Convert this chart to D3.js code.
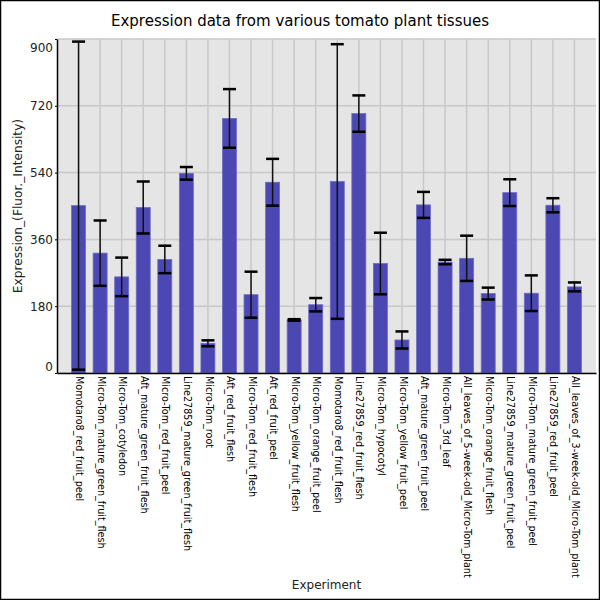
<!DOCTYPE html>
<html>
<head>
<meta charset="utf-8">
<script src="https://cdn.jsdelivr.net/npm/d3@7"></script>
<style>
  body { margin: 0; background: #fff; }
  svg { display: block; font-family: "DejaVu Sans", sans-serif; }
</style>
</head>
<body>
<svg id="chart" width="600" height="600"></svg>
<script>
const categories = [
  "Momotaro8_red_fruit_peel",
  "Micro-Tom_mature_green_fruit_flesh",
  "Micro-Tom_cotyledon",
  "Aft_mature_green_fruit_flesh",
  "Micro-Tom_red_fruit_peel",
  "Line27859_mature_green_fruit_flesh",
  "Micro-Tom_root",
  "Aft_red_fruit_flesh",
  "Micro-Tom_red_fruit_flesh",
  "Aft_red_fruit_peel",
  "Micro-Tom_yellow_fruit_flesh",
  "Micro-Tom_orange_fruit_peel",
  "Momotaro8_red_fruit_flesh",
  "Line27859_red_fruit_flesh",
  "Micro-Tom_hypocotyl",
  "Micro-Tom_yellow_fruit_peel",
  "Aft_mature_green_fruit_peel",
  "Micro-Tom_3rd_leaf",
  "All_leaves_of_5-week-old_Micro-Tom_plant",
  "Micro-Tom_orange_fruit_flesh",
  "Line27859_mature_green_fruit_peel",
  "Micro-Tom_mature_green_fruit_peel",
  "Line27859_red_fruit_peel",
  "All_leaves_of_3-week-old_Micro-Tom_plant"
];
const means = [451, 323, 259, 446, 306, 538, 80, 686, 211, 514, 143, 184,
               516, 699, 295, 89, 453, 299, 309, 214, 486, 215, 452, 232];
const errors = [442, 88, 52, 70, 37, 17, 8, 79, 62, 63, 2, 18,
                370, 49, 83, 23, 35, 6, 61, 16, 36, 48, 19, 12];
const yTicks = [0, 180, 360, 540, 720, 900];

const width = 600, height = 600;
const margin = { top: 39, right: 4, bottom: 227, left: 57 };
const plotW = width - margin.left - margin.right;
const plotH = height - margin.top - margin.bottom;

const svg = d3.select("#chart");

// outer frame
svg.append("rect")
  .attr("x", 0.5).attr("y", 0.5)
  .attr("width", width - 1).attr("height", height - 1)
  .attr("fill", "#fff").attr("stroke", "#000").attr("stroke-width", 1.5);

const g = svg.append("g").attr("transform", `translate(${margin.left},${margin.top})`);

const x = d3.scalePoint().domain(categories).range([0, plotW]).padding(1);
const y = d3.scaleLinear().domain([0, 900]).range([plotH, 0]);

g.append("rect")
  .attr("width", plotW).attr("height", plotH)
  .attr("fill", "#e5e5e5");

// grid
g.append("g").selectAll("line.h").data(yTicks).join("line")
  .attr("x1", 0).attr("x2", plotW)
  .attr("y1", d => y(d)).attr("y2", d => y(d))
  .attr("stroke", "#c8c8c8").attr("stroke-width", 1.5);
g.append("g").selectAll("line.v").data(categories).join("line")
  .attr("x1", d => x(d)).attr("x2", d => x(d))
  .attr("y1", 0).attr("y2", plotH)
  .attr("stroke", "#c8c8c8").attr("stroke-width", 1.5);

// bars
const barW = 14;
g.append("g").selectAll("rect").data(categories).join("rect")
  .attr("x", d => x(d) - barW / 2)
  .attr("y", (d, i) => y(means[i]))
  .attr("width", barW)
  .attr("height", (d, i) => plotH - y(means[i]))
  .attr("fill", "#4b47b3")
  .attr("stroke", "#6f6cc6").attr("stroke-width", 0.8);

// error bars
const capW = 13;
const eb = g.append("g").selectAll("g").data(categories).join("g");
eb.append("line")
  .attr("x1", d => x(d)).attr("x2", d => x(d))
  .attr("y1", (d, i) => y(means[i] + errors[i]))
  .attr("y2", (d, i) => y(means[i] - errors[i]))
  .attr("stroke", "#111").attr("stroke-width", 1.5);
eb.append("line")
  .attr("x1", d => x(d) - capW / 2).attr("x2", d => x(d) + capW / 2)
  .attr("y1", (d, i) => y(means[i] + errors[i]))
  .attr("y2", (d, i) => y(means[i] + errors[i]))
  .attr("stroke", "#000").attr("stroke-width", 2.5);
eb.append("line")
  .attr("x1", d => x(d) - capW / 2).attr("x2", d => x(d) + capW / 2)
  .attr("y1", (d, i) => y(means[i] - errors[i]))
  .attr("y2", (d, i) => y(means[i] - errors[i]))
  .attr("stroke", "#000").attr("stroke-width", 2.5);

// y axis
const yAxis = g.append("g")
  .call(d3.axisLeft(y).tickValues(yTicks).tickSize(2).tickPadding(2).tickSizeOuter(0));
yAxis.select(".domain").attr("stroke", "#000").attr("stroke-width", 1.5);
yAxis.selectAll("text")
  .attr("font-size", 12).attr("font-family", "DejaVu Sans").attr("fill", "#222")
  .attr("dy", d => d === 0 ? "-0.2em" : d === 900 ? "1.0em" : "0.32em");

// x axis
const xAxis = g.append("g").attr("transform", `translate(0,${plotH})`)
  .call(d3.axisBottom(x).tickSize(0).tickPadding(0).tickSizeOuter(0));
xAxis.select(".domain").attr("stroke", "#000").attr("stroke-width", 1.5);
xAxis.selectAll("text")
  .attr("font-size", 9.6).attr("font-family", "DejaVu Sans").attr("fill", "#000")
  .attr("text-anchor", "start")
  .attr("transform", "rotate(90)")
  .attr("x", 3).attr("y", 0).attr("dy", "0.3em");

// titles
svg.append("text")
  .attr("x", 300).attr("y", 26)
  .attr("text-anchor", "middle")
  .attr("font-size", 15).attr("fill", "#000")
  .text("Expression data from various tomato plant tissues");

svg.append("text")
  .attr("transform", `translate(22,${margin.top + plotH / 2}) rotate(-90)`)
  .attr("text-anchor", "middle")
  .attr("font-size", 12.2).attr("fill", "#222")
  .text("Expression_(Fluor._Intensity)");

svg.append("text")
  .attr("x", margin.left + plotW / 2).attr("y", 589)
  .attr("text-anchor", "middle")
  .attr("font-size", 12).attr("fill", "#222")
  .text("Experiment");
</script>
</body>
</html>
